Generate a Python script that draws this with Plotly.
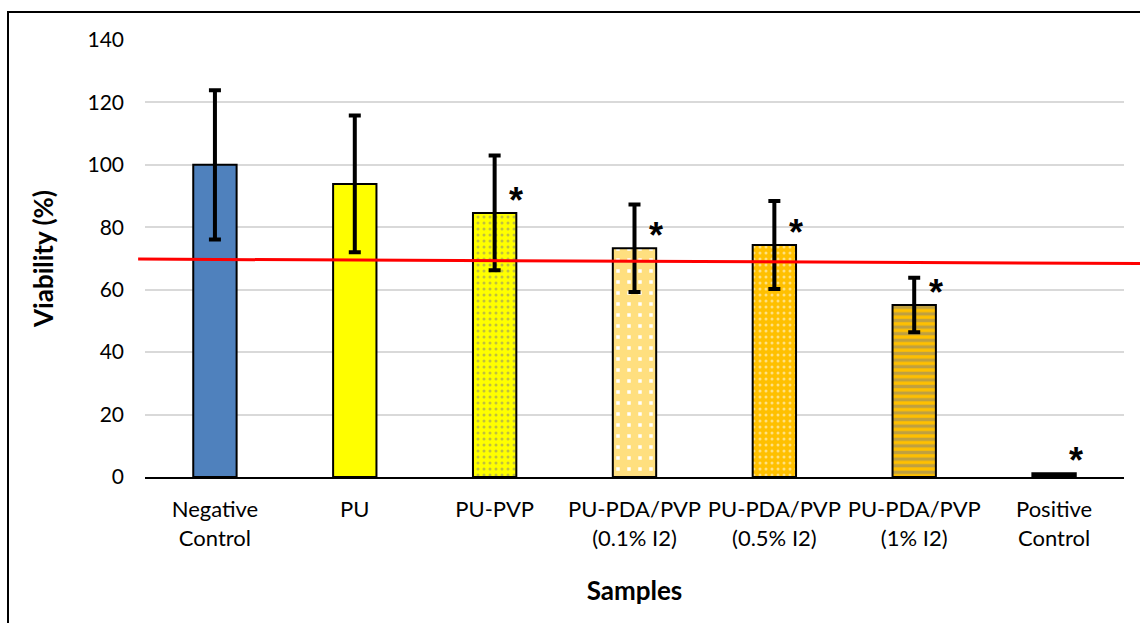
import plotly.graph_objects as go

categories = ["Negative<br>Control", "PU", "PU-PVP", "PU-PDA/PVP<br>(0.1% I2)",
              "PU-PDA/PVP<br>(0.5% I2)", "PU-PDA/PVP<br>(1% I2)", "Positive<br>Control"]
viability = [100.0, 93.9, 84.6, 73.3, 74.3, 55.1, 1.2]
errors = [23.9, 21.9, 18.4, 14.0, 14.1, 8.7, 0.0]
significant = [False, False, True, True, True, True, True]
threshold_start = 69.8
threshold_end = 68.4
y_ticks = [0, 20, 40, 60, 80, 100, 120, 140]

fills = ["#4F81BD", "#FFFF00", "#FFFF00", "#FFFFFF", "#FFC000", "#FFC000", "#000000"]
patterns = [
    None,
    None,
    dict(shape=".", fgcolor="#808080", bgcolor="#FFFF00", size=6, solidity=0.2),
    dict(shape="+", fgcolor="#FFC000", bgcolor="#FFFFFF", size=11, solidity=0.9),
    dict(shape=".", fgcolor="#FFFFFF", bgcolor="#FFC000", size=6, solidity=0.2),
    dict(shape="-", fgcolor="#808080", bgcolor="#FFC000", size=6.6, solidity=0.5),
    None,
]

fig = go.Figure()
for i, cat in enumerate(categories):
    marker = dict(color=fills[i], line=dict(color="#000000", width=2))
    if patterns[i]:
        marker["pattern"] = patterns[i]
    fig.add_trace(go.Bar(
        x=[cat], y=[viability[i]], width=0.31, marker=marker,
        error_y=dict(type="data", array=[errors[i]], visible=errors[i] > 0,
                     color="#000000", thickness=4, width=6),
        showlegend=False,
    ))

for i, cat in enumerate(categories):
    if significant[i]:
        fig.add_annotation(x=i + 0.155, y=viability[i], xref="x", yref="y",
                           text="<b>*</b>", showarrow=False, yanchor="bottom",
                           yshift=-10, font=dict(size=36, color="#000000", family="Liberation Sans"))

fig.add_shape(type="line", xref="paper", yref="y", x0=-0.007, x1=1.02,
              y0=threshold_start, y1=threshold_end,
              line=dict(color="#FF0000", width=3))

fig.add_shape(type="rect", xref="paper", yref="paper",
              x0=(8 - 145) / 979, x1=(1150 - 145) / 979,
              y0=(477 - 640) / 437, y1=(477 - 12) / 437,
              line=dict(color="#000000", width=2), fillcolor="rgba(0,0,0,0)", layer="below")

fig.update_layout(
    width=1140, height=623,
    margin=dict(l=145, r=16, t=40, b=146),
    paper_bgcolor="#FFFFFF", plot_bgcolor="#FFFFFF",
    font=dict(family="Lato, Open Sans, sans-serif", size=20, color="#000000"),
    bargap=0.69,
    xaxis=dict(categoryorder="array", categoryarray=categories,
               showline=True, linecolor="#000000", linewidth=2,
               ticks="", showgrid=False, tickfont=dict(size=22), ticklabelstandoff=12,
               title=dict(text="<b>Samples</b>", font=dict(size=26), standoff=32)),
    yaxis=dict(range=[0, 140], tickvals=y_ticks, showgrid=True,
               gridcolor="#D9D9D9", gridwidth=1.5, zeroline=False,
               showline=False, ticks="", ticklabelstandoff=20, tickfont=dict(size=21),
               title=dict(text="<b>Viability (%)</b>", font=dict(size=26), standoff=26)),
)

fig.write_html("out.html")
